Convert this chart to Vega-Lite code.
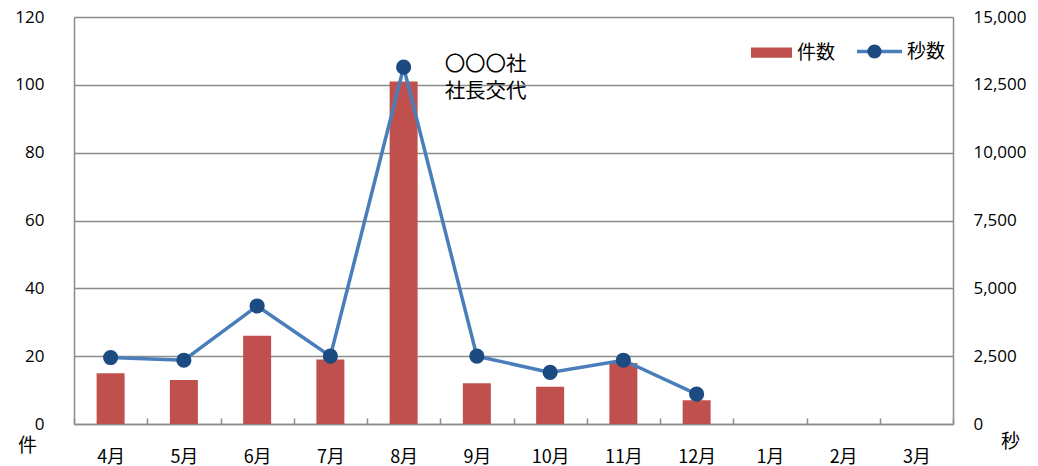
{
  "$schema": "https://vega.github.io/schema/vega-lite/v6.json",
  "width": 879,
  "height": 407,
  "autosize": "none",
  "padding": {"left": 74, "top": 17, "right": 85, "bottom": 42},
  "background": "white",
  "config": {
    "view": {"stroke": null},
    "font": "Open Sans"
  },
  "data": {
    "values": [
      {"month": "4月", "count": 15, "seconds": 2450, "note": null},
      {"month": "5月", "count": 13, "seconds": 2350, "note": null},
      {"month": "6月", "count": 26, "seconds": 4350, "note": null},
      {"month": "7月", "count": 19, "seconds": 2500, "note": null},
      {"month": "8月", "count": 101, "seconds": 13150, "note": "〇〇〇社\n社長交代"},
      {"month": "9月", "count": 12, "seconds": 2500, "note": null},
      {"month": "10月", "count": 11, "seconds": 1900, "note": null},
      {"month": "11月", "count": 18, "seconds": 2350, "note": null},
      {"month": "12月", "count": 7, "seconds": 1100, "note": null},
      {"month": "1月", "count": null, "seconds": null, "note": null},
      {"month": "2月", "count": null, "seconds": null, "note": null},
      {"month": "3月", "count": null, "seconds": null, "note": null}
    ]
  },
  "encoding": {
    "x": {
      "field": "month",
      "type": "nominal",
      "sort": null,
      "scale": {"paddingInner": 0, "paddingOuter": 0},
      "axis": {
        "title": null,
        "labelAngle": 0,
        "labelFont": "Noto Sans CJK JP",
        "labelFontSize": 18,
        "labelColor": "#000000",
        "labelPadding": 39,
        "labelBaseline": "middle",
        "domainColor": "#8C8C8C",
        "domainWidth": 1.5,
        "ticks": true,
        "tickBand": "extent",
        "tickSize": -6,
        "tickColor": "#8C8C8C",
        "tickWidth": 1.5,
        "grid": false
      }
    }
  },
  "layer": [
    {
      "encoding": {
        "y": {
          "field": "count",
          "type": "quantitative",
          "scale": {"domain": [0, 120], "nice": false},
          "axis": {
            "orient": "left",
            "values": [0, 20, 40, 60, 80, 100, 120],
            "title": "件",
            "titleAngle": 0,
            "titleX": -47,
            "titleY": 428,
            "titleAlign": "center",
            "titleBaseline": "middle",
            "titleFont": "Noto Sans CJK JP",
            "titleFontSize": 19,
            "titleFontWeight": "normal",
            "titleColor": "#000000",
            "labelFont": "Open Sans",
            "labelFontSize": 17,
            "labelColor": "#000000",
            "labelPadding": 30,
            "ticks": false,
            "domainColor": "#8C8C8C",
            "domainWidth": 1.5,
            "grid": true,
            "gridColor": "#8C8C8C",
            "gridWidth": 1.5
          }
        }
      },
      "layer": [
        {
          "mark": {"type": "bar", "width": 28},
          "encoding": {
            "color": {
              "datum": "件数",
              "scale": {"range": ["#C0504D"]},
              "legend": {
                "title": null,
                "orient": "none",
                "legendX": 677,
                "legendY": 15,
                "padding": 0,
                "symbolType": "M-1,-0.25H1V0.25H-1Z",
                "symbolSize": 1681,
                "symbolStrokeWidth": 0,
                "labelFont": "Noto Sans CJK JP",
                "labelFontSize": 19,
                "labelColor": "#000000",
                "labelOffset": 5
              }
            }
          }
        },
        {
          "transform": [{"filter": "datum.note != null"}],
          "mark": {
            "type": "text",
            "align": "left",
            "baseline": "middle",
            "dx": 41,
            "font": "Noto Sans CJK JP",
            "fontSize": 20.5,
            "lineHeight": 27,
            "lineBreak": "\n",
            "color": "#000000"
          },
          "encoding": {
            "y": {"datum": 105.9, "type": "quantitative"},
            "text": {"field": "note"}
          }
        }
      ]
    },
    {
      "encoding": {
        "y": {
          "field": "seconds",
          "type": "quantitative",
          "scale": {"domain": [0, 15000], "nice": false},
          "axis": {
            "orient": "right",
            "values": [0, 2500, 5000, 7500, 10000, 12500, 15000],
            "format": ",.0f",
            "title": "秒",
            "titleAngle": 0,
            "titleX": 57,
            "titleY": 424,
            "titleAlign": "center",
            "titleBaseline": "middle",
            "titleFont": "Noto Sans CJK JP",
            "titleFontSize": 19,
            "titleFontWeight": "normal",
            "titleColor": "#000000",
            "labelFont": "Open Sans",
            "labelFontSize": 17,
            "labelColor": "#000000",
            "labelPadding": 20,
            "ticks": false,
            "domainColor": "#8C8C8C",
            "domainWidth": 1.5,
            "grid": false
          }
        }
      },
      "layer": [
        {
          "mark": {"type": "line", "strokeWidth": 3.5},
          "encoding": {
            "stroke": {
              "datum": "秒数",
              "scale": {"range": ["#4A7EBB"]},
              "legend": {
                "title": null,
                "orient": "none",
                "legendX": 781,
                "legendY": 10,
                "padding": 0,
                "symbolType": "stroke",
                "symbolSize": 2025,
                "symbolStrokeWidth": 3.5,
                "labelFont": "Noto Sans CJK JP",
                "labelFontSize": 19,
                "labelColor": "#000000",
                "labelOffset": 3
              }
            }
          }
        },
        {
          "mark": {"type": "point", "filled": true, "size": 230, "color": "#1C4B82", "opacity": 1},
          "encoding": {
            "shape": {
              "datum": "pt",
              "scale": {"range": ["circle"]},
              "legend": {
                "title": null,
                "orient": "none",
                "legendX": 791,
                "legendY": 25,
                "padding": 0,
                "symbolSize": 200,
                "symbolFillColor": "#1C4B82",
                "symbolStrokeColor": "#1C4B82",
                "symbolStrokeWidth": 0,
                "symbolOpacity": 1,
                "labelOpacity": 0,
                "labelFontSize": 19
              }
            }
          }
        }
      ]
    }
  ],
  "resolve": {"scale": {"y": "independent"}}
}
